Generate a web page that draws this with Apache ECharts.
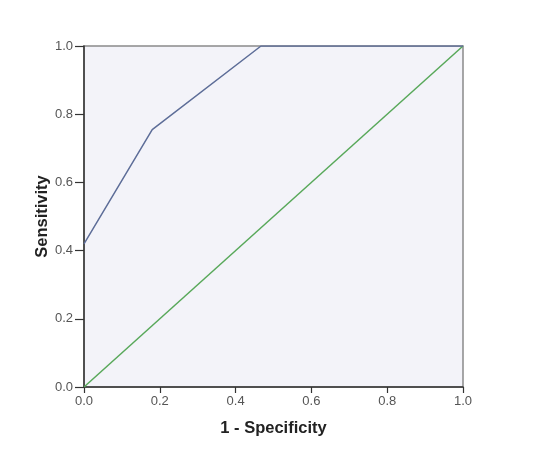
<!DOCTYPE html>
<html>
<head>
<meta charset="utf-8">
<script src="https://cdn.jsdelivr.net/npm/echarts@6/dist/echarts.min.js"></script>
<style>
  html, body { margin: 0; padding: 0; background: #ffffff; }
  #chart { width: 541px; height: 451px; }
</style>
</head>
<body>
<div id="chart"></div>
<script>
// ROC curve points (1 - specificity, sensitivity)
var rocX = [0, 0.18, 0.467, 1.0];
var rocY = [0.42, 0.755, 1.0, 1.0];
// reference diagonal
var diagX = [0, 1];
var diagY = [0, 1];

function pairs(xs, ys) {
  return xs.map(function (x, i) { return [x, ys[i]]; });
}

var myChart = echarts.init(document.getElementById('chart'));

var axisCommon = {
  type: 'value',
  min: 0,
  max: 1,
  interval: 0.2,
  nameLocation: 'middle',
  nameMoveOverlap: false,
  nameTextStyle: { fontFamily: 'Liberation Sans', fontWeight: 'bold', fontSize: 16.5, color: '#222' },
  axisLine: { show: true, lineStyle: { color: '#333', width: 1.5 } },
  axisTick: { show: true, inside: false, length: 7, lineStyle: { color: '#333', width: 1.2 } },
  axisLabel: {
    fontFamily: 'Liberation Sans', fontSize: 13, color: '#555',
    formatter: function (v) { return v.toFixed(1); }
  },
  splitLine: { show: false }
};

var option = {
  backgroundColor: '#ffffff',
  animation: false,
  grid: {
    left: 84, right: 78, top: 46, bottom: 64,
    show: true,
    backgroundColor: '#f3f3f9',
    borderColor: '#8a8a8a',
    borderWidth: 1.5
  },
  xAxis: Object.assign({}, axisCommon, {
    name: '1 - Specificity',
    nameGap: 33,
    axisTick: Object.assign({}, axisCommon.axisTick, { length: 6 }),
    axisLabel: Object.assign({}, axisCommon.axisLabel, { margin: 8 })
  }),
  yAxis: Object.assign({}, axisCommon, {
    name: 'Sensitivity',
    nameGap: 33,
    axisTick: Object.assign({}, axisCommon.axisTick, { length: 9 }),
    axisLabel: Object.assign({}, axisCommon.axisLabel, { margin: 11 })
  }),
  series: [
    {
      name: 'Diagonal',
      type: 'line',
      data: pairs(diagX, diagY),
      showSymbol: false,
      lineStyle: { color: '#58a85a', width: 1.5 }
    },
    {
      name: 'ROC',
      type: 'line',
      data: pairs(rocX, rocY),
      showSymbol: false,
      lineStyle: { color: '#5d6d98', width: 1.5 }
    }
  ]
};

myChart.setOption(option);
</script>
</body>
</html>
